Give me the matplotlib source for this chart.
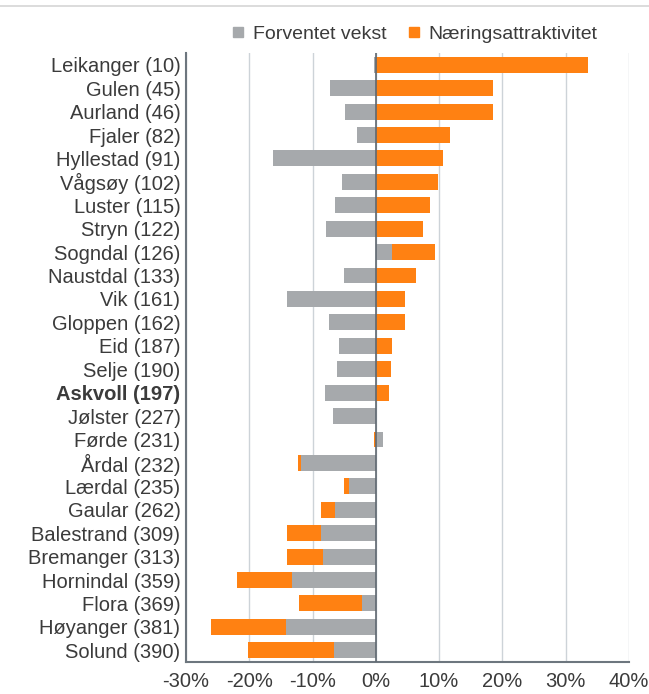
import numpy as np
import matplotlib
matplotlib.use("Agg")
import matplotlib.pyplot as plt
from matplotlib.lines import Line2D

plt.rcParams["font.family"] = ["Liberation Sans", "DejaVu Sans"]

# kommuner (rangering i parentes)
kommuner = ["Leikanger (10)", "Gulen (45)", "Aurland (46)", "Fjaler (82)",
            "Hyllestad (91)", "Vågsøy (102)", "Luster (115)", "Stryn (122)",
            "Sogndal (126)", "Naustdal (133)", "Vik (161)", "Gloppen (162)",
            "Eid (187)", "Selje (190)", "Askvoll (197)", "Jølster (227)",
            "Førde (231)", "Årdal (232)", "Lærdal (235)", "Gaular (262)",
            "Balestrand (309)", "Bremanger (313)", "Hornindal (359)",
            "Flora (369)", "Høyanger (381)", "Solund (390)"]

# verdier i prosent
forventet_vekst = [-0.35, -7.2, -4.8, -2.9, -16.2, -5.3, -6.5, -7.9,
                   2.5, -5.1, -14.1, -7.4, -5.8, -6.1, -8.1, -6.8,
                   1.1, -11.8, -4.3, -6.5, -8.6, -8.3, -13.2,
                   -2.2, -14.2, -6.6]
naering = [33.5, 18.5, 18.5, 11.7, 10.6, 9.8, 8.5, 7.4,
           6.9, 6.4, 4.6, 4.6, 2.6, 2.4, 2.1, 0.0,
           -0.35, -0.45, -0.7, -2.2, -5.5, -5.8, -8.8,
           -10.0, -11.8, -13.6]

grey = "#A6A9AC"
orange = "#FF8112"
txt = "#3B3B3B"
fs = 14.5

g = np.array(forventet_vekst)
o = np.array(naering)
# stablet som i Excel: positive paa positive, negative paa negative
start = np.where(np.sign(g) == np.sign(o), g, 0)

y = np.arange(len(kommuner))

fig = plt.figure(figsize=(6.49, 6.94), dpi=100)
ax = fig.add_axes([0.2866, 0.0461, 0.6825, 0.8775])

ax.barh(y, g, height=0.68, color=grey, zorder=2)
ax.barh(y, o, left=start, height=0.68, color=orange, zorder=2)

ax.set_xlim(-30, 40)
ax.set_ylim(len(kommuner) - 0.5, -0.5)
ax.set_xticks(range(-30, 41, 10))
ax.set_xticklabels([f"{v}%" for v in range(-30, 41, 10)], fontsize=fs, color=txt)
ax.set_yticks(y)
ax.set_yticklabels(kommuner, fontsize=fs, color=txt)
ax.get_yticklabels()[kommuner.index("Askvoll (197)")].set_fontweight("bold")
ax.tick_params(axis="y", length=0, pad=4)
ax.tick_params(axis="x", length=0, pad=7)

ax.grid(axis="x", color="#CDD3D8", linewidth=1, zorder=0)
ax.axvline(0, color="#5F6870", linewidth=1.2, zorder=3)
for s in ["top", "right"]:
    ax.spines[s].set_visible(False)
for s in ["left", "bottom"]:
    ax.spines[s].set_color("#6D767E")
    ax.spines[s].set_linewidth(1.5)

handles = [Line2D([], [], marker="s", linestyle="", color=grey, markersize=6.5),
           Line2D([], [], marker="s", linestyle="", color=orange, markersize=6.5)]
fig.legend(handles, ["Forventet vekst", "Næringsattraktivitet"], loc="center",
           bbox_to_anchor=(0.636, 0.951), ncol=2, frameon=False, fontsize=14,
           handlelength=1.0, handletextpad=0.25, columnspacing=0.9, labelcolor=txt)

fig.add_artist(Line2D([0.0, 1.0], [0.991, 0.991], color="#D5D5D5", linewidth=1.2))

fig.savefig("out.png", dpi=100)
